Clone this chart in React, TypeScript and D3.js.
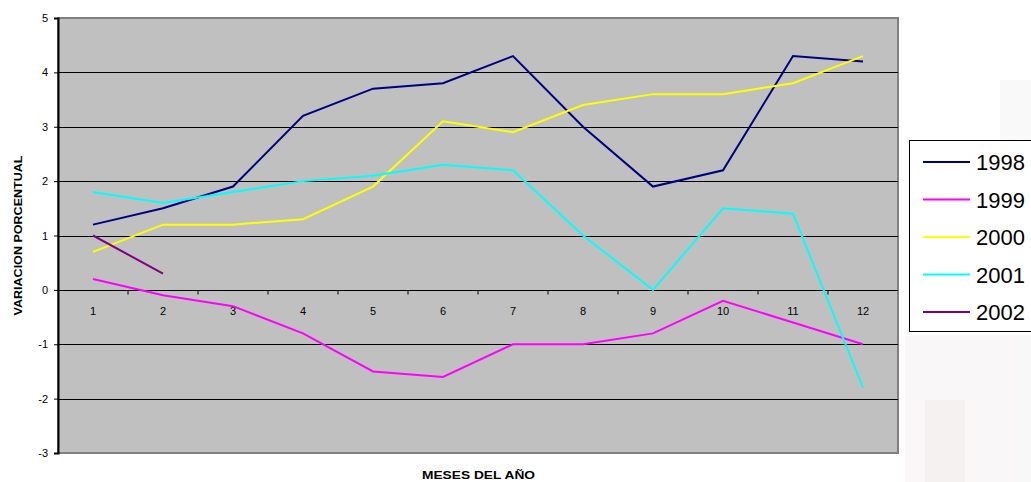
import React, { useEffect, useRef } from 'react';
import * as d3 from 'd3';

const months = ['1', '2', '3', '4', '5', '6', '7', '8', '9', '10', '11', '12'];
const yTicks = [-3, -2, -1, 0, 1, 2, 3, 4, 5];

const years = ['1998', '1999', '2000', '2001', '2002'];
const v1998 = [1.2, 1.5, 1.9, 3.2, 3.7, 3.8, 4.3, 3.0, 1.9, 2.2, 4.3, 4.2];
const v1999 = [0.2, -0.1, -0.3, -0.8, -1.5, -1.6, -1.0, -1.0, -0.8, -0.2, -0.6, -1.0];
const v2000 = [0.7, 1.2, 1.2, 1.3, 1.9, 3.1, 2.9, 3.4, 3.6, 3.6, 3.8, 4.3];
const v2001 = [1.8, 1.6, 1.8, 2.0, 2.1, 2.3, 2.2, 1.0, 0.0, 1.5, 1.4, -1.8];
const v2002 = [1.0, 0.3];

const COLORS = ['#000080', '#ff00ff', '#ffff00', '#00ffff', '#800080'];

function drawChart(node: SVGSVGElement) {
  const width = 1031;
  const height = 482;
  const margin = { top: 18, right: 133, bottom: 29, left: 58 };
  const innerWidth = width - margin.left - margin.right;
  const innerHeight = height - margin.top - margin.bottom;
  const svg = d3.select(node);
  svg.selectAll('*').remove();

  const font = 'Arial, "Liberation Sans", sans-serif';

  // faint watermark behind the chart
  const wm = svg.append('g').attr('opacity', 0.35);
  wm.append('rect').attr('x', 905).attr('y', 335).attr('width', 126).attr('height', 147).attr('fill', '#eeeaea');
  wm.append('rect').attr('x', 925).attr('y', 400).attr('width', 40).attr('height', 82).attr('fill', '#e8d8d8');
  wm.append('rect').attr('x', 1000).attr('y', 80).attr('width', 31).attr('height', 60).attr('fill', '#f0eded');

  const chart = svg.append('g').attr('transform', `translate(${margin.left},${margin.top})`);

  const x = d3.scaleBand().domain(months).range([0, innerWidth]);
  const y = d3.scaleLinear().domain([-3, 5]).range([innerHeight, 0]);

  chart.append('rect')
    .attr('width', innerWidth)
    .attr('height', innerHeight)
    .attr('fill', '#c0c0c0')
    .attr('stroke', '#808080')
    .attr('stroke-width', 2);

  chart.append('g')
    .selectAll('line')
    .data(yTicks.filter((t) => t !== -3 && t !== 5))
    .join('line')
    .attr('x1', 0)
    .attr('x2', innerWidth)
    .attr('y1', (d) => Math.round(y(d)) + 0.5)
    .attr('y2', (d) => Math.round(y(d)) + 0.5)
    .attr('stroke', '#000')
    .attr('stroke-width', 1);

  // y axis
  chart.append('g')
    .call(d3.axisLeft(y).tickValues(yTicks).tickSize(4).tickPadding(6).tickFormat((d) => String(d)))
    .call((g) => g.select('.domain').attr('stroke', '#000').attr('stroke-width', 2))
    .call((g) => g.selectAll('.tick line').attr('stroke', '#000'))
    .call((g) => g.selectAll('text').attr('fill', '#000').attr('font-size', 11).attr('font-family', font));

  // x axis at zero
  const xAxis = chart.append('g').attr('transform', `translate(0,${Math.round(y(0)) + 0.5})`);
  xAxis.append('line').attr('x1', 0).attr('x2', innerWidth).attr('stroke', '#000');
  xAxis.selectAll('.sep')
    .data(months.slice(1))
    .join('line')
    .attr('x1', (d) => x(d)!)
    .attr('x2', (d) => x(d)!)
    .attr('y1', 0)
    .attr('y2', 4)
    .attr('stroke', '#000');
  xAxis.selectAll('text')
    .data(months)
    .join('text')
    .attr('x', (d) => x(d)! + x.bandwidth() / 2)
    .attr('y', 24)
    .attr('text-anchor', 'middle')
    .attr('font-size', 11)
    .attr('font-family', font)
    .text((d) => d);

  const allSeries = [v1998, v1999, v2000, v2001, v2002];
  const line = d3.line<number>()
    .x((_, i) => x(months[i])! + x.bandwidth() / 2)
    .y((d) => y(d));

  allSeries.forEach((values, i) => {
    chart.append('path')
      .datum(values)
      .attr('fill', 'none')
      .attr('stroke', COLORS[i])
      .attr('stroke-width', 2)
      .attr('d', line);
  });

  // axis titles
  svg.append('text')
    .attr('transform', `translate(22,${margin.top + innerHeight / 2 - 80}) rotate(-90)`)
    .attr('text-anchor', 'end')
    .attr('font-size', 11.5)
    .attr('font-weight', 700)
    .attr('font-family', font)
    .attr('textLength', 160)
    .attr('lengthAdjust', 'spacingAndGlyphs')
    .text('VARIACION PORCENTUAL');

  svg.append('text')
    .attr('x', margin.left + innerWidth / 2 - 56)
    .attr('y', 479)
    .attr('font-size', 11.5)
    .attr('font-weight', 700)
    .attr('font-family', font)
    .attr('textLength', 113)
    .attr('lengthAdjust', 'spacingAndGlyphs')
    .text('MESES DEL AÑO');

  // legend
  const legend = svg.append('g').attr('transform', 'translate(909,140)');
  legend.append('rect')
    .attr('x', 0.5)
    .attr('y', 0.5)
    .attr('width', 140)
    .attr('height', 191)
    .attr('fill', '#fff')
    .attr('stroke', '#000');
  const ly = d3.scalePoint().domain(years).range([22, 172]);
  legend.selectAll('.item')
    .data(years)
    .join('g')
    .attr('transform', (d) => `translate(0,${ly(d)})`)
    .each(function addItem(d, i) {
      const g = d3.select(this);
      g.append('line').attr('x1', 14).attr('x2', 61).attr('stroke', COLORS[i]).attr('stroke-width', 2);
      g.append('text')
        .attr('x', 67)
        .attr('y', 8)
        .attr('font-size', 22)
        .attr('font-family', font)
        .text(d);
    });
}

export default function App() {
  const ref = useRef<SVGSVGElement>(null);
  useEffect(() => {
    if (ref.current) drawChart(ref.current);
  }, []);
  return (
    <svg
      ref={ref}
      width={1031}
      height={482}
      style={{ position: 'absolute', left: 0, top: 0, background: '#fff' }}
    />
  );
}
